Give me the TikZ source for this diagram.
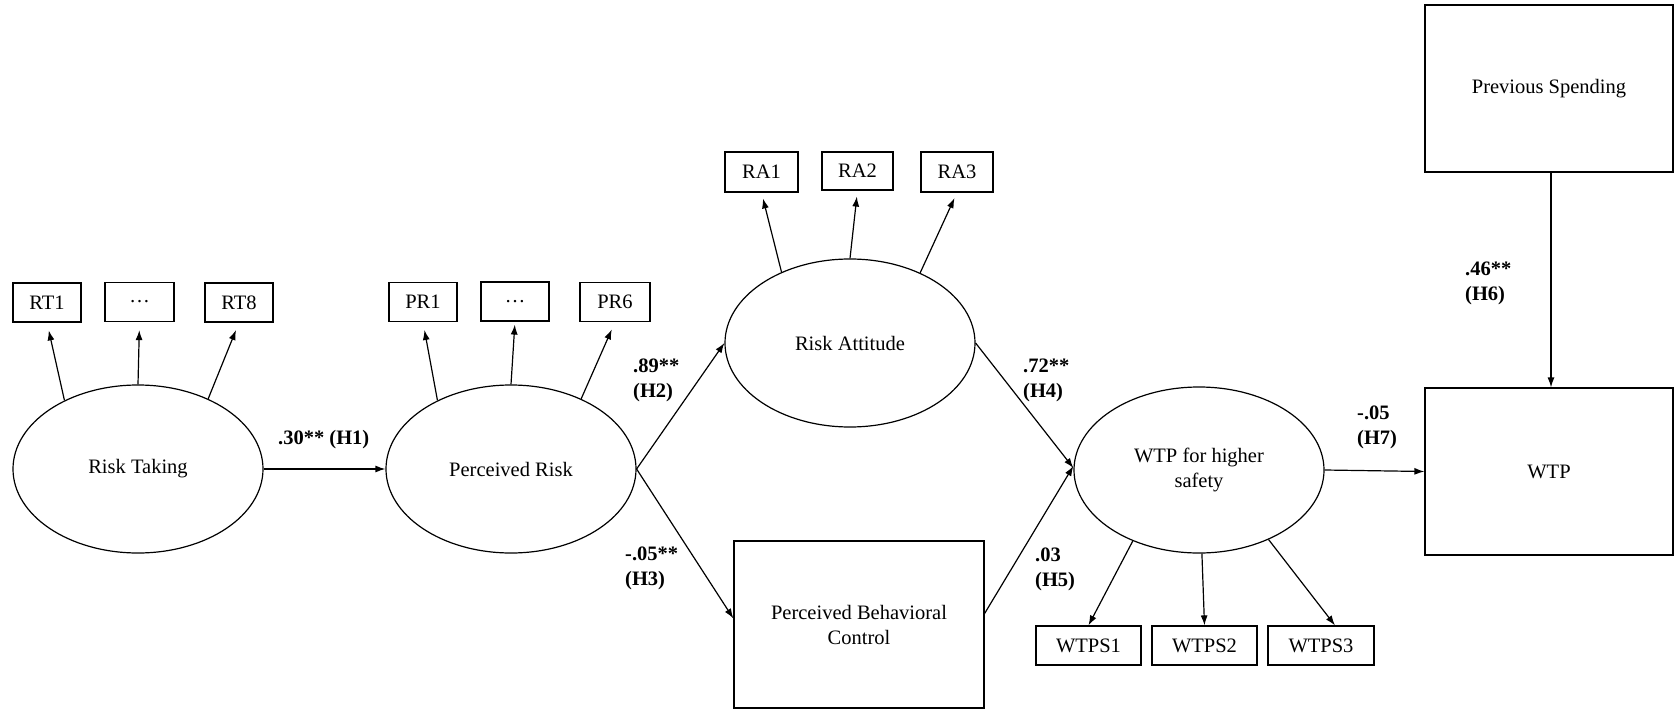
\documentclass[tikz,border=0pt]{standalone}
\usepackage{fontspec}
\setmainfont{Liberation Serif}
\usetikzlibrary{shapes.geometric,arrows.meta}
\begin{document}
\begin{tikzpicture}[x=1pt,y=-1pt,
  every node/.style={font=\fontsize{20.5}{25}\selectfont},
  lat/.style={draw, ellipse, minimum width=250pt, minimum height=168pt, inner sep=0pt, align=center, line width=1.2pt},
  ind/.style={draw, rectangle, minimum height=39pt, inner sep=0pt, line width=1.2pt},
  bigbox/.style={draw, rectangle, minimum height=167pt, inner sep=0pt, align=center, line width=1.2pt},
  arr/.style={-{Latex[length=10pt,width=7pt]}, line width=1.2pt},
  coef/.style={font=\fontsize{20.5}{25}\selectfont\bfseries, align=left, anchor=west, inner sep=0pt}
]
\useasboundingbox (0,0) rectangle (1674,709);

% latent variables
\node[lat] (RT) at (138,469) {Risk Taking};
\node[lat] (PR) at (511,469) {Perceived Risk};
\node[lat] (RA) at (850,343) {Risk Attitude};
\node[lat, minimum height=166pt] (WS) at (1199,470) {WTP for higher\\safety};

% boxes
\node[bigbox, minimum width=250pt] (PBC) at (859,624.5) {Perceived Behavioral\\Control};
\node[bigbox, minimum width=248pt] (PS) at (1549,88.5) {Previous Spending};
\node[bigbox, minimum width=248pt] (WTP) at (1549,471.5) {WTP};

% indicators
\node[ind, minimum width=68pt] (RT1) at (47,302.5) {RT1};
\node[ind, minimum width=69pt] (RTd) at (139.5,302) {\ldots};
\node[ind, minimum width=68pt] (RT8) at (239,302.5) {RT8};
\node[ind, minimum width=68pt] (PR1) at (423,302) {PR1};
\node[ind, minimum width=68pt] (PRd) at (515,301.5) {\ldots};
\node[ind, minimum width=70pt] (PR6) at (615,302) {PR6};
\node[ind, minimum width=73pt, minimum height=40pt] (RA1) at (761.5,172) {RA1};
\node[ind, minimum width=71pt, minimum height=38pt] (RA2) at (857.5,171) {RA2};
\node[ind, minimum width=72pt, minimum height=40pt] (RA3) at (957,172) {RA3};
\node[ind, minimum width=105pt] (W1) at (1088.5,645.5) {WTPS1};
\node[ind, minimum width=105pt] (W2) at (1204.5,645.5) {WTPS2};
\node[ind, minimum width=106pt] (W3) at (1321,645.5) {WTPS3};

% indicator arrows
\draw[arr, shorten >=8pt] (RT.137) -- (RT1.south);
\draw[arr, shorten >=8pt] (RT.90) -- (RTd.south);
\draw[arr, shorten >=8pt] (RT.45) -- (RT8.south);
\draw[arr, shorten >=8pt] (PR.137) -- (PR1.south);
\draw[arr, shorten >=3pt] (PR.90) -- (PRd.south);
\draw[arr, shorten >=8pt] (PR.45) -- (PR6.south);
\draw[arr, shorten >=6pt] (RA.134) -- (RA1.south);
\draw[arr, shorten >=6pt] (RA.90) -- (RA2.south);
\draw[arr, shorten >=6pt] (RA.45) -- (RA3.south);
\draw[arr] (WS.227) -- (W1.north);
\draw[arr] (WS.-88) -- (W2.north);
\draw[arr] (WS.315) -- ([xshift=14pt]W3.north);

% structural paths
\draw[arr] (RT.east) -- (PR.west);
\draw[arr] (PR.east) -- (RA.west);
\draw[arr] (PR.east) -- ([yshift=6pt]PBC.west);
\draw[arr] (RA.east) -- ([yshift=2pt]WS.west);
\draw[arr] ([yshift=11pt]PBC.east) -- ([yshift=4pt]WS.west);
\draw[arr] (WS.east) -- (WTP.west);
\draw[arr] ([xshift=2pt]PS.south) -- ([xshift=2pt]WTP.north);

% coefficients
\node[coef] (c1) at (278,440) {.30** (H1)};
\node[coef] (c2) at (633,380) {.89**\\(H2)};
\node[coef] (c3) at (625,568) {-.05**\\(H3)};
\node[coef] (c4) at (1023,380) {.72**\\(H4)};
\node[coef] (c5) at (1035,569) {.03\\(H5)};
\node[coef] (c7) at (1357,427) {-.05\\(H7)};
\node[coef] (c6) at (1465,283) {.46**\\(H6)};
\end{tikzpicture}
\end{document}
